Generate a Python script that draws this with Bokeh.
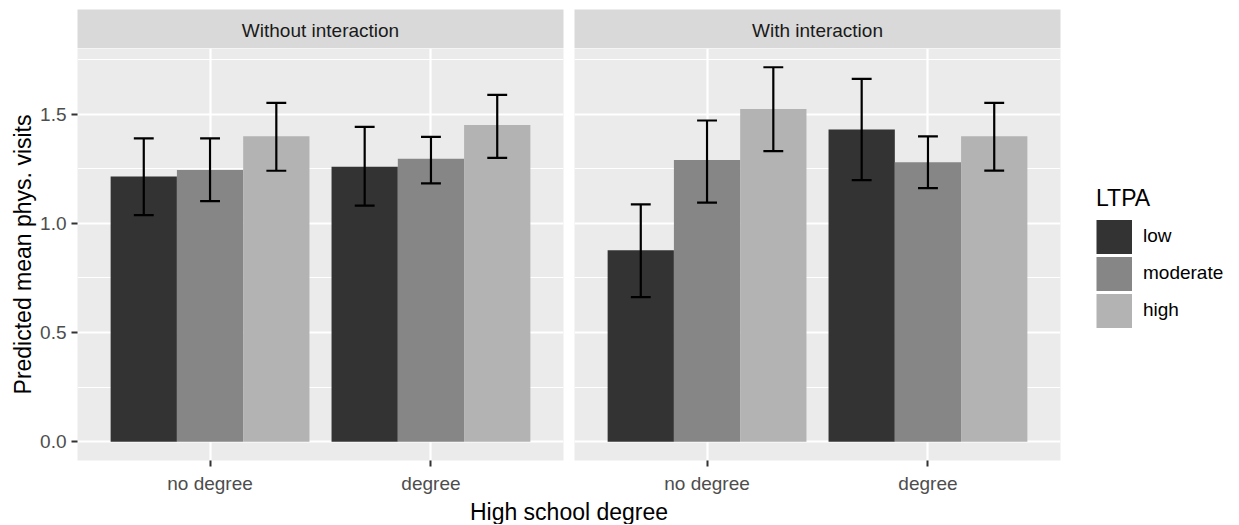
from bokeh.plotting import figure
from bokeh.models import (FactorRange, Range1d, ColumnDataSource, FixedTicker,
                          NumeralTickFormatter, Legend, LegendItem)
from bokeh.layouts import row, column
from bokeh.transform import dodge
from bokeh.core.properties import value
from bokeh.embed import file_html
from bokeh.resources import INLINE

# ---------------- data ----------------
categories = ["no degree", "degree"]
levels = ["low", "moderate", "high"]
panels = ["Without interaction", "With interaction"]
colors = ["#333333", "#868686", "#B3B3B3"]
x_title = "High school degree"
y_title = "Predicted mean phys. visits"
legend_title = "LTPA"
y_ticks = [0.0, 0.5, 1.0, 1.5]
y_minor_ticks = [0.25, 0.75, 1.25, 1.75]

# Without interaction
wo_low_mean = [1.215, 1.259]
wo_low_lower = [1.038, 1.081]
wo_low_upper = [1.389, 1.442]
wo_mod_mean = [1.244, 1.296]
wo_mod_lower = [1.102, 1.183]
wo_mod_upper = [1.389, 1.396]
wo_high_mean = [1.399, 1.451]
wo_high_lower = [1.241, 1.300]
wo_high_upper = [1.552, 1.588]

# With interaction
wi_low_mean = [0.877, 1.430]
wi_low_lower = [0.662, 1.198]
wi_low_upper = [1.087, 1.662]
wi_mod_mean = [1.290, 1.280]
wi_mod_lower = [1.095, 1.161]
wi_mod_upper = [1.471, 1.398]
wi_high_mean = [1.524, 1.399]
wi_high_lower = [1.331, 1.242]
wi_high_upper = [1.715, 1.552]

panel_data = [
    [(wo_low_mean, wo_low_lower, wo_low_upper),
     (wo_mod_mean, wo_mod_lower, wo_mod_upper),
     (wo_high_mean, wo_high_lower, wo_high_upper)],
    [(wi_low_mean, wi_low_lower, wi_low_upper),
     (wi_mod_mean, wi_mod_lower, wi_mod_upper),
     (wi_high_mean, wi_high_lower, wi_high_upper)],
]

FONT = "Liberation Sans"
BAR_W = 0.3
CAP_W = 0.09

# y range like ggplot (5% expansion of data range)
all_vals = [0.0]
for pd_ in panel_data:
    for m, lo, up in pd_:
        all_vals += m + lo + up
ymin, ymax = min(all_vals), max(all_vals)
pad = (ymax - ymin) * 0.05
y_start, y_end = ymin - pad, ymax + pad

PANEL_W = 486
L1, R1 = 77, 5
L2, R2 = 6, 5
LEG_W = 173
STRIP_TOP = 9
STRIP_H = 39
PANEL_H = 414
BOTTOM = 34
TITLE_H = 28


def make_panel(data, show_y, mbl, mbr):
    p = figure(width=mbl + PANEL_W + mbr, height=PANEL_H + BOTTOM,
               x_range=FactorRange(factors=categories, range_padding=0.1,
                                   range_padding_units="absolute"),
               y_range=Range1d(y_start, y_end),
               output_backend="svg", toolbar_location=None,
               min_border_left=mbl, min_border_right=mbr,
               min_border_top=0, min_border_bottom=BOTTOM,
               background_fill_color="#EBEBEB", border_fill_color="white",
               outline_line_color=None)
    sources = []
    for i, (m, lo, up) in enumerate(data):
        off = (i - 1) * BAR_W
        src = ColumnDataSource(dict(x=categories, top=m, lower=lo, upper=up))
        p.vbar(x=dodge("x", off, range=p.x_range), top="top", bottom=0,
               width=BAR_W, fill_color=colors[i], line_color=None, source=src)
        sources.append((src, off))
    for src, off in sources:
        p.segment(x0=dodge("x", off, range=p.x_range), x1=dodge("x", off, range=p.x_range),
                  y0="lower", y1="upper", line_color="black", line_width=2.2, source=src)
        for col in ("lower", "upper"):
            p.segment(x0=dodge("x", off - CAP_W / 2, range=p.x_range),
                      x1=dodge("x", off + CAP_W / 2, range=p.x_range),
                      y0=col, y1=col, line_color="black", line_width=2.2, source=src)

    ticker = FixedTicker(ticks=y_ticks, minor_ticks=y_minor_ticks)
    p.yaxis.ticker = ticker
    p.ygrid.ticker = ticker
    p.yaxis.formatter = NumeralTickFormatter(format="0.0")

    p.xgrid.grid_line_color = "white"
    p.xgrid.grid_line_width = 2.2
    p.ygrid.grid_line_color = "white"
    p.ygrid.grid_line_width = 2.2
    p.ygrid.minor_grid_line_color = "white"
    p.ygrid.minor_grid_line_width = 1.1

    for ax in (p.xaxis, p.yaxis):
        ax.axis_line_color = None
        ax.major_tick_line_color = "#333333"
        ax.major_tick_line_width = 2
        ax.major_tick_out = 6
        ax.major_tick_in = 0
        ax.minor_tick_line_color = None
        ax.major_label_text_font = FONT
        ax.major_label_text_font_size = "19px"
        ax.major_label_text_color = "#4D4D4D"
    p.xaxis.major_label_standoff = 6
    p.yaxis.major_label_standoff = 5
    if show_y:
        p.yaxis.axis_label = y_title
        p.yaxis.axis_label_text_font = FONT
        p.yaxis.axis_label_text_font_size = "23px"
        p.yaxis.axis_label_text_font_style = "normal"
        p.yaxis.axis_label_text_color = "black"
        p.yaxis.axis_label_standoff = 1
    else:
        p.yaxis.visible = False
    return p, sources


def make_strip(name, mbl, mbr):
    s = figure(width=mbl + PANEL_W + mbr, height=STRIP_TOP + STRIP_H,
               x_range=Range1d(0, 1), y_range=Range1d(0, 1),
               output_backend="svg", toolbar_location=None,
               x_axis_location=None, y_axis_location=None,
               min_border_left=mbl, min_border_right=mbr,
               min_border_top=STRIP_TOP, min_border_bottom=0,
               background_fill_color="#D9D9D9", border_fill_color="white",
               outline_line_color=None)
    s.xgrid.visible = False
    s.ygrid.visible = False
    s.text(x=[0.5], y=[0.47], text=[name], text_align="center",
           text_baseline="alphabetic", text_font=value(FONT),
           text_font_size="19px", text_color="#1A1A1A")
    return s


p1, _ = make_panel(panel_data[0], True, L1, R1)
p2, src2 = make_panel(panel_data[1], False, L2, R2)

# legend panel (proxy renderers built from the same data, hidden in the plot)
p3 = figure(width=LEG_W, height=PANEL_H + BOTTOM,
            x_range=p2.x_range, y_range=p2.y_range,
            output_backend="svg", toolbar_location=None,
            x_axis_location=None, y_axis_location=None, min_border=0,
            background_fill_color="white", border_fill_color="white",
            outline_line_color=None)
p3.xgrid.visible = False
p3.ygrid.visible = False
items = []
for lv, c, (src, off) in zip(levels, colors, src2):
    rb = p3.vbar(x=dodge("x", off, range=p3.x_range), top="top", bottom=0,
                 width=BAR_W, fill_color=c, line_color=None, source=src, visible=False)
    rl = p3.line(x=dodge("x", off, range=p3.x_range), y="top", source=src,
                 line_color=c, line_width=34, line_cap="butt", visible=False)
    items.append(LegendItem(label=lv, renderers=[rb, rl]))
legend = Legend(items=items, location=(31, 131.5), title=legend_title,
                title_text_font=FONT, title_text_font_size="23px",
                title_text_font_style="normal", title_text_color="black",
                title_standoff=6,
                label_text_font=FONT, label_text_font_size="19px",
                label_text_color="black",
                glyph_width=36, glyph_height=37, label_height=37, spacing=0,
                label_standoff=11, padding=0, margin=0,
                border_line_color=None, background_fill_alpha=0)
p3.add_layout(legend)

s1 = make_strip(panels[0], L1, R1)
s2 = make_strip(panels[1], L2, R2)

total_w = (L1 + PANEL_W + R1) + (L2 + PANEL_W + R2) + LEG_W
t = figure(width=total_w, height=TITLE_H, x_range=Range1d(0, total_w),
           y_range=Range1d(0, TITLE_H),
           output_backend="svg", toolbar_location=None,
           x_axis_location=None, y_axis_location=None, min_border=0,
           background_fill_color="white", border_fill_color="white",
           outline_line_color=None)
t.xgrid.visible = False
t.ygrid.visible = False
center_x = (L1 + (L1 + PANEL_W + R1 + L2 + PANEL_W)) / 2
t.text(x=[center_x], y=[12.5], text=[x_title], text_align="center",
       text_baseline="alphabetic", text_font=value(FONT),
       text_font_size="23px", text_color="black")

layout = column(row(s1, s2), row(p1, p2, p3), t)

open("out.html", "w").write(file_html(layout, INLINE))
